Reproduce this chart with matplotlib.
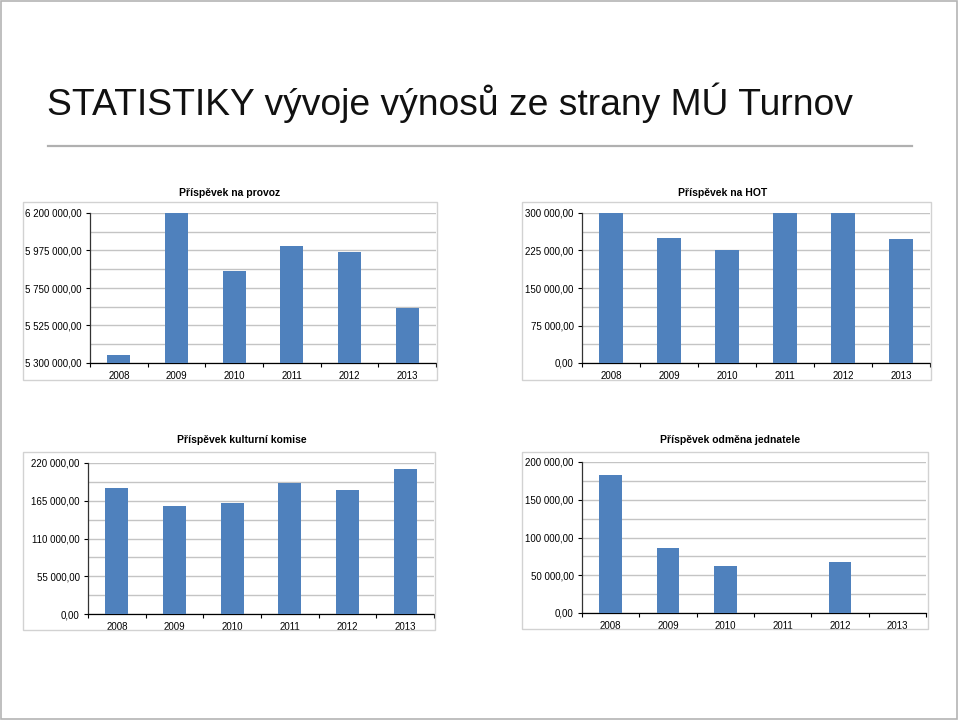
import matplotlib
matplotlib.use("Agg")
import matplotlib.pyplot as plt
import numpy as np
from matplotlib.patches import Rectangle
from matplotlib.lines import Line2D
from matplotlib.ticker import FuncFormatter

plt.rcParams['font.family'] = ['Liberation Sans', 'DejaVu Sans']

title = "STATISTIKY vývoje výnosů ze strany MÚ Turnov"
years = ["2008", "2009", "2010", "2011", "2012", "2013"]

provoz = [5348000, 6200000, 5850000, 6000000, 5965000, 5627000]
hot = [300000, 250000, 225000, 300000, 300000, 248000]
kultura = [184000, 157500, 162000, 191000, 180000, 211000]
odmena = [182500, 86000, 62000, 0, 68000, 0]

W, H = 960, 720
BLUE = "#4f81bd"
GRID = "#c4c4c4"

fig = plt.figure(figsize=(9.6, 7.2), dpi=100)
fig.patch.set_facecolor("white")


def fx(x):
    return x / W


def fy(y):
    return 1 - y / H


def money(v, pos=None):
    s = "{:,.2f}".format(v)
    return s.replace(",", " ").replace(".", ",")


# slide border
fig.patches.append(Rectangle((fx(1), fy(719)), fx(956), 718 / H, transform=fig.transFigure,
                             fill=False, edgecolor="#b4b4b4", lw=1.2))
fig.text(fx(47), fy(115), title, fontsize=26.8, ha="left", va="baseline", color="#111111")
fig.lines.append(Line2D([fx(48), fx(912)], [fy(146), fy(146)], transform=fig.transFigure,
                        color="#b0b0b0", lw=1.6))


def chart(frame, area, tpos, name, values, ymin, ymax, step):
    fx0, fy0, fx1, fy1 = frame
    fig.patches.append(Rectangle((fx(fx0), fy(fy1)), (fx1 - fx0) / W, (fy1 - fy0) / H,
                                 transform=fig.transFigure, fill=False,
                                 edgecolor="#d2d2d2", lw=1.0))
    fig.text(fx(tpos[0]), fy(tpos[1]), name, fontsize=7.5, fontweight="bold",
             ha="center", va="center")
    x0, y0, x1, y1 = area
    ax = fig.add_axes([fx(x0), fy(y1), (x1 - x0) / W, (y1 - y0) / H])
    ax.bar(range(len(years)), values, width=0.4, color=BLUE, zorder=3)
    ax.set_xlim(-0.5, len(years) - 0.5)
    ax.set_ylim(ymin, ymax)
    ax.set_yticks(np.arange(ymin, ymax + 1, step))
    ax.set_yticks(np.arange(ymin + step / 2, ymax, step), minor=True)
    ax.yaxis.set_major_formatter(FuncFormatter(money))
    ax.grid(axis="y", which="both", color=GRID, lw=1.0, zorder=0)
    ax.set_xticks(range(len(years)))
    ax.set_xticklabels(years)
    ax.set_xticks([i - 0.5 for i in range(len(years) + 1)], minor=True)
    ax.tick_params(axis="x", which="major", length=0, pad=6, labelsize=7)
    ax.tick_params(axis="x", which="minor", length=3, direction="out", width=0.8)
    ax.tick_params(axis="y", which="major", length=3, width=0.8, pad=3, labelsize=7)
    ax.tick_params(axis="y", which="minor", length=0)
    for s in ("top", "right"):
        ax.spines[s].set_visible(False)
    ax.spines["left"].set_color("#333333")
    ax.spines["bottom"].set_color("black")
    ax.spines["left"].set_linewidth(0.9)
    ax.spines["bottom"].set_linewidth(0.9)
    ax.set_axisbelow(True)
    return ax


chart((23, 202, 437, 380), (90, 213, 436, 363), (230, 193), "Příspěvek na provoz",
      provoz, 5300000, 6200000, 225000)
chart((522, 202, 931, 380), (582, 213, 930, 363), (723, 193), "Příspěvek na HOT",
      hot, 0, 300000, 75000)
chart((23, 452, 435, 630), (88, 463, 434, 614), (242, 440), "Příspěvek kulturní komise",
      kultura, 0, 220000, 55000)
chart((522, 452, 928, 629), (582, 462, 926, 613), (730, 440), "Příspěvek odměna jednatele",
      odmena, 0, 200000, 50000)

fig.savefig("out.png", dpi=100, facecolor="white")
